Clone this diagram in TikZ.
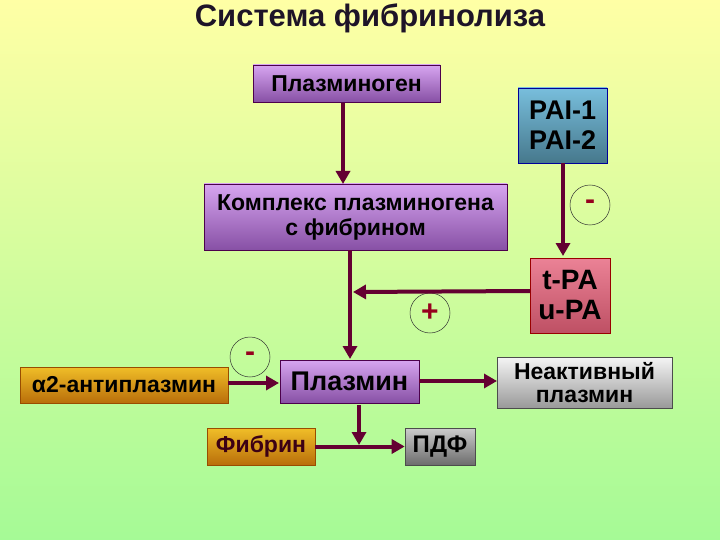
\documentclass[tikz,border=0pt]{standalone}
\usepackage{fontspec}
\setmainfont{Liberation Sans}
\usetikzlibrary{arrows.meta}
\definecolor{arr}{RGB}{100,0,50}
\definecolor{pm}{RGB}{150,0,30}
\newcommand{\fs}[1]{\fontsize{#1}{#1*1.1}\selectfont}
\begin{document}
\begin{tikzpicture}[x=1pt,y=-1pt,
  box/.style={draw=#1!60!black,line width=0.6pt,inner sep=0pt,align=center,font=\bfseries,text=black},
  purp/.style={box=violet,top color={rgb,255:red,215;green,165;blue,240},bottom color={rgb,255:red,135;green,80;blue,165}},
  gold/.style={box=orange,top color={rgb,255:red,240;green,190;blue,40},bottom color={rgb,255:red,185;green,110;blue,10}},
  ar/.style={draw=arr,line width=4pt,-{Triangle[width=14pt,length=13pt]}},
  ln/.style={draw=arr,line width=4pt},
  circ/.style={circle,draw=black!80,line width=0.5pt,minimum size=40pt,inner sep=0pt,text=pm,font=\bfseries\fontsize{30}{30}\selectfont}]
\shade[top color={rgb,255:red,255;green,255;blue,165},bottom color={rgb,255:red,165;green,250;blue,150}] (0,0) rectangle (720,540);
\useasboundingbox (0,0) rectangle (720,540);
\node[font=\bfseries\fontsize{31}{34}\selectfont,text={rgb,255:red,30;green,20;blue,40}] (title) at (370,18) {Система фибринолиза};
\node[purp,minimum width=187pt,minimum height=37pt,font=\bfseries\fontsize{23}{25}\selectfont] (pg) at (346.5,83.5) {Плазминоген};
\node[purp,minimum width=303pt,minimum height=66pt,font=\bfseries\fontsize{23}{25}\selectfont] (kx) at (355.5,217) {Комплекс плазминогена\\с фибрином};
\node[box=blue,top color={rgb,255:red,120;green,190;blue,220},bottom color={rgb,255:red,70;green,120;blue,140},minimum width=89pt,minimum height=75pt,font=\bfseries\fontsize{27}{30}\selectfont] (pai) at (562.5,125.5) {PAI-1\\PAI-2};
\node[box=red,top color={rgb,255:red,235;green,130;blue,150},bottom color={rgb,255:red,190;green,80;blue,100},minimum width=80pt,minimum height=75pt,font=\bfseries\fontsize{28}{30}\selectfont] (pa) at (570,295.5) {t-PA\\u-PA};
\node[purp,minimum width=139pt,minimum height=43pt,font=\bfseries\fontsize{27}{30}\selectfont] (pl) at (349.5,381.5) {Плазмин};
\node[gold,minimum width=208pt,minimum height=36pt,font=\bfseries\fontsize{23}{25}\selectfont] (a2) at (124,385) {α2-антиплазмин};
\node[box=gray,top color=white!92!gray,bottom color=gray!80,minimum width=175pt,minimum height=51pt,font=\bfseries\fontsize{23}{23}\selectfont] (ni) at (584.5,382.5) {Неактивный\\плазмин};
\node[gold,minimum width=108pt,minimum height=37pt,font=\bfseries\fontsize{23}{25}\selectfont,text={rgb,255:red,60;green,0;blue,20}] (fb) at (261,446.5) {Фибрин};
\node[box=gray,top color=gray!40,bottom color=gray!85!black,minimum width=70pt,minimum height=37pt,font=\bfseries\fontsize{24}{25}\selectfont] (pdf) at (440,446.5) {ПДФ};
\node[circ] (m1) at (590,205) {-};
\node[circ] (pl1) at (430,313) {+};
\node[circ] (m2) at (250,357) {-};
\coordinate (j1) at (353,292);
\coordinate (j2) at (359,445);
\draw[ar] (343,103) -- (343,184);
\draw[ar] (563,163) -- (563,256);
\draw[ar] (350,250) -- (350,359);
\draw[ar] (530,291) -- (j1);
\draw[ar] (228,383) -- (279,383);
\draw[ln] (419,381) -- (480,381);
\draw[ar] (480,381) -- (497,381);
\draw[ar] (fb.east) -- (pdf.west);
\draw[ar] (359,405) -- (j2);
\end{tikzpicture}
\end{document}
